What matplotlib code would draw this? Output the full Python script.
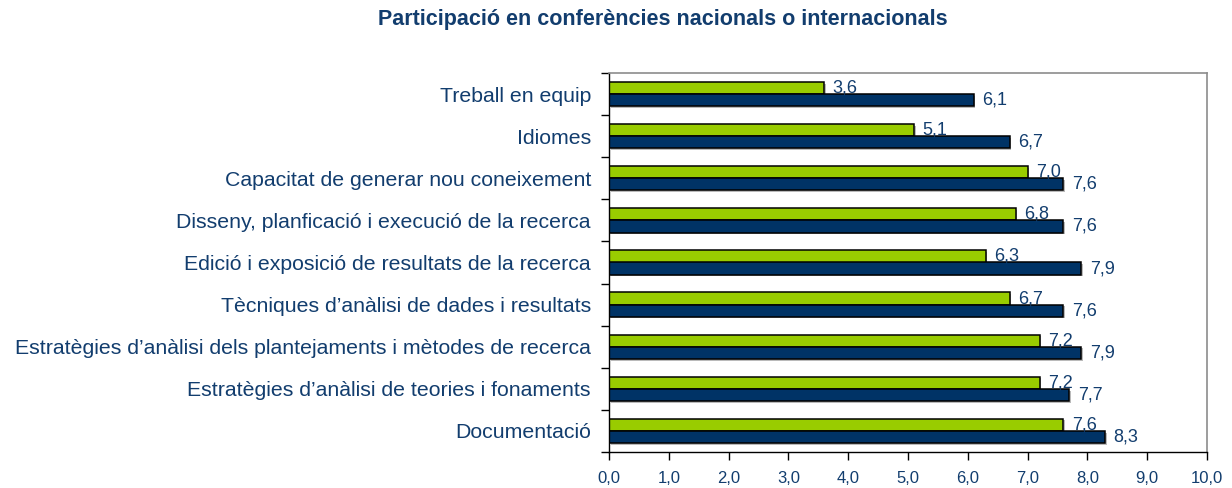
import numpy as np
import matplotlib
matplotlib.use('Agg')
import matplotlib.pyplot as plt
import matplotlib.patheffects as pe

# Data (top to bottom, as shown)
categories = [
    'Treball en equip',
    'Idiomes',
    'Capacitat de generar nou coneixement',
    'Disseny, planficació i execució de la recerca',
    'Edició i exposició de resultats de la recerca',
    'Tècniques d’anàlisi de dades i resultats',
    'Estratègies d’anàlisi dels plantejaments i mètodes de recerca',
    'Estratègies d’anàlisi de teories i fonaments',
    'Documentació',
]
green_vals = [3.6, 5.1, 7.0, 6.8, 6.3, 6.7, 7.2, 7.2, 7.6]
navy_vals = [6.1, 6.7, 7.6, 7.6, 7.9, 7.6, 7.9, 7.7, 8.3]
x_ticks = np.arange(0, 11, 1)

title = 'Participació en conferències nacionals o internacionals'

GREEN = '#99cc00'
NAVY = '#003366'
TEXT = '#123d6e'

plt.rcParams['font.family'] = ['Liberation Sans', 'DejaVu Sans']

W, H = 1232, 488
fig = plt.figure(figsize=(W / 100, H / 100), dpi=100)
ax = fig.add_axes([609 / W, (H - 452) / H, (1207 - 609) / W, (452 - 73) / H])

y = np.arange(len(categories))
h = 0.29
shadow = [pe.SimplePatchShadow(offset=(1.2, -1.2), shadow_rgbFace='#777777', alpha=0.5), pe.Normal()]

bars_g = ax.barh(y - h / 2, green_vals, height=h, color=GREEN, edgecolor='black', linewidth=1.1)
bars_n = ax.barh(y + h / 2, navy_vals, height=h, color=NAVY, edgecolor='black', linewidth=1.1)
for b in list(bars_g) + list(bars_n):
    b.set_path_effects(shadow)

for bars, vals in ((bars_g, green_vals), (bars_n, navy_vals)):
    for b, v in zip(bars, vals):
        ax.annotate(f'{v:.1f}'.replace('.', ','),
                    xy=(v, b.get_y() + b.get_height() / 2),
                    xytext=(6, 0), textcoords='offset points',
                    ha='left', va='center', fontsize=13, color=TEXT)

ax.set_xlim(0, 10)
ax.set_ylim(len(categories) - 0.5, -0.5)

ax.set_xticks(x_ticks)
ax.set_xticklabels([f'{t:.1f}'.replace('.', ',') for t in x_ticks],
                   family=['Liberation Sans Narrow', 'Liberation Sans'],
                   fontsize=12, color=TEXT)
ax.tick_params(axis='x', length=6, width=1, pad=8, color='black')

ax.set_yticks(y)
ax.set_yticklabels(categories, fontsize=15.3, color=TEXT)
ax.set_yticks(np.arange(-0.5, len(categories), 1), minor=True)
ax.tick_params(axis='y', which='major', length=0, pad=13)
ax.tick_params(axis='y', which='minor', length=6, width=1, color='black')

for side in ('top', 'right'):
    ax.spines[side].set_color('#8c8c8c')
    ax.spines[side].set_linewidth(1.2)
for side in ('left', 'bottom'):
    ax.spines[side].set_color('black')
    ax.spines[side].set_linewidth(1.0)

fig.text(663 / W, 1 - 20 / H, title, ha='center', va='center',
         fontsize=15.5, fontweight='bold', color=TEXT)

fig.savefig('out.png', dpi=100)
